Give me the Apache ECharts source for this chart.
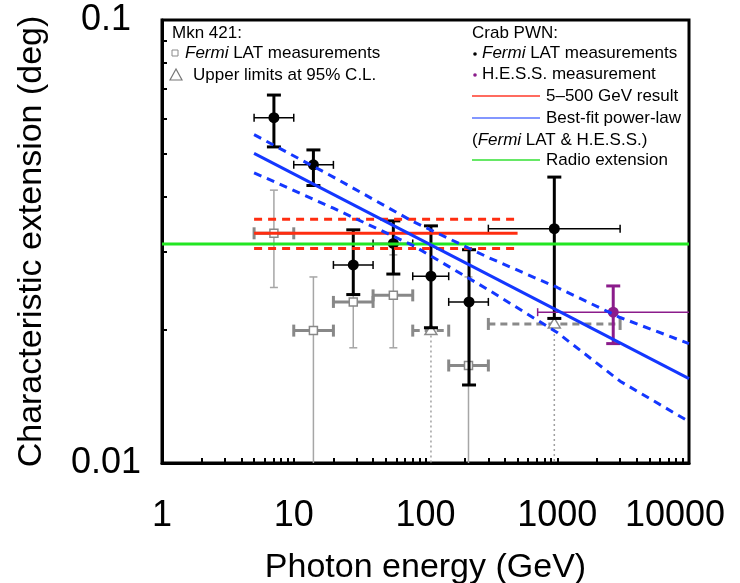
<!DOCTYPE html>
<html>
<head>
<meta charset="utf-8">
<script src="https://cdn.jsdelivr.net/npm/echarts@6/dist/echarts.min.js"></script>
<style>
  html, body { margin: 0; padding: 0; background: #fff; }
  #chart { width: 740px; height: 583px; }
</style>
</head>
<body>
<div id="chart"></div>
<script>
// Crab PWN, Fermi LAT bins (GeV) and characteristic extension (deg)
const crabEnergy   = [7.07, 14.1, 28.3, 57, 110, 214, 950];
const crabEnergyLo = [5, 10, 20, 40, 80, 150, 300];
const crabEnergyHi = [10, 20, 40, 80, 150, 300, 3000];
const crabExt      = [0.0602, 0.0471, 0.0280, 0.0313, 0.0264, 0.0231, 0.0338];
const crabExtLo    = [0.0517, 0.0423, 0.0240, 0.0267, 0.0202, 0.0150, 0.0212];
const crabExtHi    = [0.0677, 0.0509, 0.0336, 0.0352, 0.0343, 0.0303, 0.0442];

// Crab PWN, H.E.S.S.
const hessEnergy   = [2660];
const hessEnergyLo = [710];
const hessEnergyHi = [12000];
const hessExt      = [0.0219];
const hessExtLo    = [0.0186];
const hessExtHi    = [0.0251];

// Mkn 421, Fermi LAT measurements
const mknEnergy   = [7.07, 14.1, 28.3, 57, 212];
const mknEnergyLo = [5, 10, 20, 40, 150];
const mknEnergyHi = [10, 20, 40, 80, 300];
const mknExt      = [0.0330, 0.0199, 0.0231, 0.0239, 0.0166];
const mknExtLo    = [0.0249, 0.008, 0.0182, 0.0182, 0.008];
const mknExtHi    = [0.0413, 0.0263, 0.0280, 0.0295, 0.0263];

// Mkn 421, upper limits at 95% C.L.
const ulEnergy   = [110, 950];
const ulEnergyLo = [80, 300];
const ulEnergyHi = [150, 3000];
const ulExt      = [0.0199, 0.0206];

// 5-500 GeV result
const resultEnergy = [5, 500];
const resultExt    = [0.0330, 0.0330];
const resultExtLo  = [0.0305, 0.0305];
const resultExtHi  = [0.0355, 0.0355];

// radio extension
const radioEnergy = [1, 10000];
const radioExt    = [0.0312, 0.0312];

// best-fit power-law and its band
const fitEnergy  = [5, 10000];
const fitExt     = [0.0500, 0.0155];
const bandEnergy = [5, 20, 80, 300, 1000, 3000, 10000];
const bandHi     = [0.0551, 0.0442, 0.0351, 0.0291, 0.0249, 0.0213, 0.0186];
const bandLo     = [0.0452, 0.0376, 0.0310, 0.0246, 0.0197, 0.0153, 0.0124];

// axis ticks
const xTickValues = [1, 2, 3, 4, 5, 6, 7, 8, 9, 10, 20, 30, 40, 50, 60, 70, 80, 90, 100,
  200, 300, 400, 500, 600, 700, 800, 900, 1000, 2000, 3000, 4000, 5000, 6000, 7000, 8000, 9000, 10000];
const yTickValues = [0.01, 0.02, 0.03, 0.04, 0.05, 0.06, 0.07, 0.08, 0.09, 0.1];

const FONT = "'Liberation Sans', Arial, Helvetica, sans-serif";

const pairs = (xs, ys) => xs.map((x, i) => [x, ys[i]]);
const rows = (e, v, elo, ehi, vlo, vhi) => e.map((x, i) => [x, v[i], elo[i], ehi[i], vlo[i], vhi[i]]);

function seg(x1, y1, x2, y2, style) {
  return { type: 'line', shape: { x1, y1, x2, y2 }, style };
}

// point with error bars; opt describes how each part is drawn
function errorRender(opt) {
  return function (params, api) {
    const e = api.value(0), v = api.value(1);
    const c = api.coord([e, v]);
    const l = api.coord([api.value(2), v]);
    const r = api.coord([api.value(3), v]);
    const b = api.coord([e, api.value(4)]);
    const t = api.coord([e, api.value(5)]);
    const hs = { stroke: opt.hColor, lineWidth: opt.hWidth };
    const vs = { stroke: opt.vColor, lineWidth: opt.vWidth };
    const kids = [
      seg(l[0], c[1], r[0], c[1], hs),
      seg(l[0], c[1] - opt.hCap, l[0], c[1] + opt.hCap, hs),
      seg(r[0], c[1] - opt.hCap, r[0], c[1] + opt.hCap, hs),
      seg(c[0], b[1], c[0], t[1], vs),
      seg(c[0] - opt.vCap, b[1], c[0] + opt.vCap, b[1], vs),
      seg(c[0] - opt.vCap, t[1], c[0] + opt.vCap, t[1], vs)
    ];
    if (opt.marker === 'dot') {
      kids.push({ type: 'circle', shape: { cx: c[0], cy: c[1], r: 5.5 }, style: { fill: opt.vColor } });
    } else {
      kids.push({ type: 'rect', shape: { x: c[0] - 4, y: c[1] - 4, width: 8, height: 8 },
        style: { fill: '#fff', stroke: opt.hColor, lineWidth: 1.5 } });
    }
    return { type: 'group', children: kids };
  };
}

function upperLimitRender(params, api) {
  const e = api.value(0), v = api.value(1);
  const c = api.coord([e, v]);
  const l = api.coord([api.value(2), v]);
  const r = api.coord([api.value(3), v]);
  const floor = api.coord([e, 0.01]);
  const grey = '#8a8a8a';
  return {
    type: 'group',
    children: [
      seg(c[0], c[1], c[0], floor[1], { stroke: '#a0a0a0', lineWidth: 1.5, lineDash: [2, 3] }),
      seg(l[0], c[1], r[0], c[1], { stroke: grey, lineWidth: 3, lineDash: [7, 5] }),
      seg(l[0], c[1] - 6, l[0], c[1] + 6, { stroke: grey, lineWidth: 3 }),
      seg(r[0], c[1] - 6, r[0], c[1] + 6, { stroke: grey, lineWidth: 3 }),
      { type: 'polygon', shape: { points: [[c[0], c[1] - 6], [c[0] - 6, c[1] + 4], [c[0] + 6, c[1] + 4]] },
        style: { fill: '#fff', stroke: grey, lineWidth: 1.5 } }
    ]
  };
}

function lineSeries(data, color, dashed) {
  return {
    type: 'line', data, symbol: 'none', silent: true, animation: false,
    lineStyle: { color, width: 3, type: dashed ? [8, 6] : 'solid' }
  };
}

const chart = echarts.init(document.getElementById('chart'));

const axisCommon = {
  type: 'log',
  logBase: 10,
  axisLine: { onZero: false, lineStyle: { color: '#000', width: 3 } },
  splitLine: { show: false },
  nameLocation: 'middle',
  nameTextStyle: { fontSize: 34, color: '#000', fontFamily: FONT }
};

const txt = (x, y, text, extra) => ({
  type: 'text', x, y, silent: true,
  style: Object.assign({
    text, fill: '#000', fontSize: 17, fontFamily: FONT, verticalAlign: 'middle',
    rich: { i: { fontStyle: 'italic', fontSize: 17, fontFamily: FONT } }
  }, extra || {})
});
const legLine = (y, color) => ({
  type: 'line', silent: true, shape: { x1: 472, y1: y, x2: 540, y2: y },
  style: { stroke: color, lineWidth: 1.5 }
});

const option = {
  animation: false,
  textStyle: { fontFamily: FONT },
  grid: {
    left: 162, right: 51, top: 20, bottom: 120,
    show: true, borderColor: '#000', borderWidth: 3,
    outerBoundsMode: 'none'
  },
  xAxis: Object.assign({}, axisCommon, {
    min: 1, max: 10000,
    name: 'Photon energy (GeV)',
    nameGap: 88,
    axisTick: { inside: true, length: 5, lineStyle: { color: '#000', width: 2 }, customValues: xTickValues },
    axisLabel: {
      fontSize: 36, color: '#000', margin: 35, fontFamily: FONT,
      // the last label sits a little to the left so it stays inside the picture
      formatter: v => (Math.round(v) === 10000 ? '{last|10000}' : String(Math.round(v))),
      rich: { last: { fontSize: 36, fontFamily: FONT, color: '#000', padding: [0, 28, 0, 0] } }
    }
  }),
  yAxis: Object.assign({}, axisCommon, {
    min: 0.01, max: 0.1,
    name: 'Characteristic extension (deg)',
    nameGap: 113,
    axisTick: { inside: true, length: 5, lineStyle: { color: '#000', width: 2 }, customValues: yTickValues },
    axisLabel: { fontSize: 36, color: '#000', margin: 56, align: 'center', fontFamily: FONT,
      formatter: v => String(+(+v).toPrecision(4)) }
  }),
  series: [
    lineSeries(pairs(radioEnergy, radioExt), '#22e622', false),
    lineSeries(pairs(resultEnergy, resultExt), '#ff2d10', false),
    lineSeries(pairs(resultEnergy, resultExtHi), '#ff2d10', true),
    lineSeries(pairs(resultEnergy, resultExtLo), '#ff2d10', true),
    lineSeries(pairs(fitEnergy, fitExt), '#1437ff', false),
    lineSeries(pairs(bandEnergy, bandHi), '#1437ff', true),
    lineSeries(pairs(bandEnergy, bandLo), '#1437ff', true),
    {
      type: 'custom', clip: true, silent: true,
      renderItem: errorRender({ hColor: '#888888', hWidth: 3, hCap: 6, vColor: '#a6a6a6', vWidth: 1.5, vCap: 4, marker: 'square' }),
      data: rows(mknEnergy, mknExt, mknEnergyLo, mknEnergyHi, mknExtLo, mknExtHi)
    },
    {
      type: 'custom', clip: true, silent: true,
      renderItem: upperLimitRender,
      data: rows(ulEnergy, ulExt, ulEnergyLo, ulEnergyHi, ulExt, ulExt)
    },
    {
      type: 'custom', clip: true, silent: true,
      renderItem: errorRender({ hColor: '#000', hWidth: 1.5, hCap: 4, vColor: '#000', vWidth: 3, vCap: 7, marker: 'dot' }),
      data: rows(crabEnergy, crabExt, crabEnergyLo, crabEnergyHi, crabExtLo, crabExtHi)
    },
    {
      type: 'custom', clip: true, silent: true,
      renderItem: errorRender({ hColor: '#8b1c8b', hWidth: 1.5, hCap: 4, vColor: '#8b1c8b', vWidth: 3, vCap: 7, marker: 'dot' }),
      data: rows(hessEnergy, hessExt, hessEnergyLo, hessEnergyHi, hessExtLo, hessExtHi)
    }
  ],
  graphic: [
    txt(172, 33, 'Mkn 421:'),
    { type: 'rect', silent: true, shape: { x: 172, y: 50, width: 6, height: 6 },
      style: { fill: '#fff', stroke: '#8a8a8a', lineWidth: 1 } },
    txt(185, 53, '{i|Fermi} LAT measurements'),
    { type: 'polygon', silent: true, shape: { points: [[176, 69], [170, 80], [182, 80]] },
      style: { fill: '#fff', stroke: '#777', lineWidth: 1.2 } },
    txt(193, 75, 'Upper limits at 95% C.L.'),

    txt(472, 33, 'Crab PWN:'),
    { type: 'circle', silent: true, shape: { cx: 475, cy: 54, r: 1.8 }, style: { fill: '#000' } },
    txt(482, 53, '{i|Fermi} LAT measurements'),
    { type: 'circle', silent: true, shape: { cx: 475, cy: 75, r: 1.8 }, style: { fill: '#8b1c8b' } },
    txt(482, 74, 'H.E.S.S. measurement'),
    legLine(96, '#ff3a2a'),
    txt(546, 96, '5\u2013500 GeV result'),
    legLine(118, '#5a74ff'),
    txt(546, 118, 'Best-fit power-law'),
    txt(472, 140, '({i|Fermi} LAT & H.E.S.S.)'),
    legLine(160, '#33e033'),
    txt(546, 160, 'Radio extension')
  ]
};

chart.setOption(option);
</script>
</body>
</html>
